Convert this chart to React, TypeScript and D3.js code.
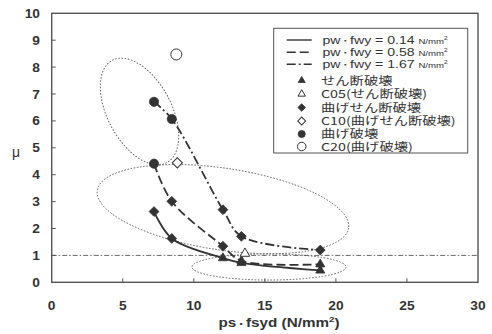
import React from "react";
import * as d3 from "d3";

// x positions of the tested columns (ps·fsyd, N/mm2)
const psFsyd = [7.2, 8.45, 12.05, 13.35, 18.9];

// mu for each pw·fwy level
const muLow = [2.63, 1.63, 0.9, 0.72, 0.44]; // 0.14
const muMid = [4.41, 3.01, 1.34, 0.8, 0.67]; // 0.58
const muHigh = [6.71, 6.07, 2.7, 1.71, 1.2]; // 1.67

// failure mode of each point: t = shear, d = flexure-shear, c = flexure
const modeLow = ["d", "d", "t", "t", "t"];
const modeMid = ["c", "d", "d", "t", "t"];
const modeHigh = ["c", "c", "d", "d", "d"];

// open-marker specimens
const openNames = ["C05", "C10", "C20"];
const openX = [13.6, 8.84, 8.77];
const openY = [1.07, 4.44, 8.47];
const openMode = ["t", "d", "c"];

// dotted grouping ellipses: centre in data units, radii in x-units, tilt in degrees
const ellCx = [6.18, 12.05, 15.29];
const ellCy = [6.35, 2.72, 0.57];
const ellA = [4.08, 8.94, 5.42];
const ellB = [2.25, 2.88, 0.92];
const ellTilt = [62, 8.5, 0];

const xTicks = [0, 5, 10, 15, 20, 25, 30];
const yTicks = [0, 1, 2, 3, 4, 5, 6, 7, 8, 9, 10];

const seriesValues = ["0.14", "0.58", "1.67"];
const markerLabels = [
  "せん断破壊",
  "C05(せん断破壊)",
  "曲げせん断破壊",
  "C10(曲げせん断破壊)",
  "曲げ破壊",
  "C20(曲げ破壊)",
];
const markerKinds = ["t", "t", "d", "d", "c", "c"];
const markerOpen = [false, true, false, true, false, true];

const W = 492;
const H = 334;
const margin = { top: 13.3, right: 14, bottom: 51.7, left: 51.7 };
const ink = "#333";
const dashes = [null, "9,4", "9,3,2,3"];
const jpFont = "'Noto Sans CJK JP', 'Liberation Sans', sans-serif";
const numFont = "'Liberation Sans', Arial, sans-serif";

function markerPath(kind: string, open: boolean, scale = 1) {
  if (kind === "t") return d3.symbol().type(d3.symbolTriangle).size((open ? 40 : 36) * scale)()!;
  if (kind === "d") return d3.symbol().type(d3.symbolSquare).size((open ? 52 : 48) * scale)()!;
  return d3.symbol().type(d3.symbolCircle).size((open ? 95 : 66) * scale)()!;
}

function Marker({ kind, open, cx, cy, scale = 1 }: any) {
  return (
    <path
      d={markerPath(kind, open, scale)}
      transform={`translate(${cx},${cy})${kind === "d" ? " rotate(45)" : ""}`}
      fill={open ? "#fff" : ink}
      stroke={ink}
      strokeWidth={open ? 1 : 0.8}
    />
  );
}

// the scanned figure is a bit wider than tall, so its text is stretched sideways
function Wide({ x, y, sx, children }: any) {
  return <g transform={`translate(${x},${y}) scale(${sx},1)`}>{children}</g>;
}

export default function App() {
  const x = d3.scaleLinear().domain([0, 30]).range([margin.left, W - margin.right]);
  const y = d3.scaleLinear().domain([0, 10]).range([H - margin.bottom, margin.top]);
  const pxPerX = x(1) - x(0);

  const line = d3
    .line<number>()
    .x((_, i) => x(psFsyd[i]))
    .y((d) => y(d))
    .curve(d3.curveCatmullRom.alpha(0.5));

  const series = [
    { mu: muLow, mode: modeLow },
    { mu: muMid, mode: modeMid },
    { mu: muHigh, mode: modeHigh },
  ];

  const legX = 273.7;
  const legY = 28.3;
  const legW = 194;
  const legH = 124.7;
  const lineRows = [40, 52.3, 64.3];
  const markRows = [80.5, 94, 107.5, 121, 134, 146.5];

  return (
    <div style={{ position: "fixed", left: 0, top: 0 }}>
      <svg width={W} height={H} style={{ display: "block", background: "#fff" }}>
        {/* reference line mu = 1 */}
        <line
          x1={x(0)}
          x2={x(30)}
          y1={y(1)}
          y2={y(1)}
          stroke="#555"
          strokeWidth={0.9}
          strokeDasharray="5,2,1.5,2"
        />

        {/* grouping ellipses */}
        {ellCx.map((cx, i) => (
          <ellipse
            key={"e" + i}
            cx={x(cx)}
            cy={y(ellCy[i])}
            rx={ellA[i] * pxPerX}
            ry={ellB[i] * pxPerX}
            transform={`rotate(${ellTilt[i]},${x(cx)},${y(ellCy[i])})`}
            fill="none"
            stroke="#555"
            strokeWidth={0.9}
            strokeDasharray="1.6,1.6"
          />
        ))}

        {/* series lines */}
        {series.map((s, i) => (
          <path
            key={"l" + i}
            d={line(s.mu)!}
            fill="none"
            stroke={ink}
            strokeWidth={1.8}
            strokeDasharray={dashes[i] ?? undefined}
          />
        ))}

        {/* series markers */}
        {series.map((s, i) =>
          s.mu.map((m, j) => (
            <Marker key={`m${i}-${j}`} kind={s.mode[j]} open={false} cx={x(psFsyd[j])} cy={y(m)} />
          ))
        )}

        {/* open specimens */}
        {openNames.map((n, i) => (
          <Marker key={n} kind={openMode[i]} open={true} cx={x(openX[i])} cy={y(openY[i])} />
        ))}

        {/* frame */}
        <rect
          x={x(0)}
          y={y(10)}
          width={x(30) - x(0)}
          height={y(0) - y(10)}
          fill="none"
          stroke="#555"
          strokeWidth={1.4}
        />

        {/* ticks */}
        {xTicks.slice(1, -1).map((t) => (
          <line key={"xt" + t} x1={x(t)} x2={x(t)} y1={y(0)} y2={y(0) - 4} stroke="#555" strokeWidth={1} />
        ))}
        {yTicks.slice(1, -1).map((t) => (
          <line key={"yt" + t} x1={x(0)} x2={x(0) + 4} y1={y(t)} y2={y(t)} stroke="#555" strokeWidth={1} />
        ))}

        {/* tick labels */}
        {xTicks.map((t) => (
          <Wide key={"xl" + t} x={x(t)} y={309.5} sx={1.1}>
            <text textAnchor="middle" fontFamily={numFont} fontWeight="bold" fontSize={12.5} fill={ink}>
              {t}
            </text>
          </Wide>
        ))}
        {yTicks.map((t) => (
          <Wide key={"yl" + t} x={40} y={y(t) + 4.5} sx={1.1}>
            <text textAnchor="end" fontFamily={numFont} fontWeight="bold" fontSize={12.5} fill={ink}>
              {t}
            </text>
          </Wide>
        ))}

        {/* axis titles */}
        <text x={16} y={157} textAnchor="middle" fontFamily={numFont} fontSize={14} fill={ink}>
          μ
        </text>
        <Wide x={279} y={327} sx={1.22}>
          <text textAnchor="middle" fontFamily={numFont} fontWeight="bold" fontSize={12.5} fill={ink}>
            ps
            <tspan fontSize={8} fontFamily={jpFont}>
              ・
            </tspan>
            fsyd (N/mm
            <tspan dy={-5} fontSize={8}>
              2
            </tspan>
            <tspan dy={5}>)</tspan>
          </text>
        </Wide>

        {/* legend */}
        <rect x={legX} y={legY} width={legW} height={legH} fill="#fff" stroke="#555" strokeWidth={1} />
        {seriesValues.map((v, i) => (
          <g key={"sl" + i}>
            <line
              x1={286.7}
              x2={311.7}
              y1={lineRows[i]}
              y2={lineRows[i]}
              stroke={ink}
              strokeWidth={1.4}
              strokeDasharray={dashes[i] ?? undefined}
            />
            <Wide x={322.5} y={lineRows[i] + 4} sx={1.28}>
              <text fontFamily={numFont} fontSize={11} fill={ink}>
                pw
                <tspan fontSize={7.5} fontFamily={jpFont}>
                  ・
                </tspan>
                fwy = {v}
                <tspan fontSize={7.5} dx={3}>
                  N/mm
                </tspan>
                <tspan fontSize={5} dy={-4}>
                  2
                </tspan>
              </text>
            </Wide>
          </g>
        ))}
        {markerLabels.map((lab, i) => (
          <g key={"ml" + i}>
            <Marker kind={markerKinds[i]} open={markerOpen[i]} cx={301.7} cy={markRows[i]} scale={0.6} />
            <Wide x={321} y={markRows[i] + 4} sx={1.3}>
              <text fontFamily={jpFont} fontSize={11} fill={ink}>
                {lab}
              </text>
            </Wide>
          </g>
        ))}
      </svg>
    </div>
  );
}
